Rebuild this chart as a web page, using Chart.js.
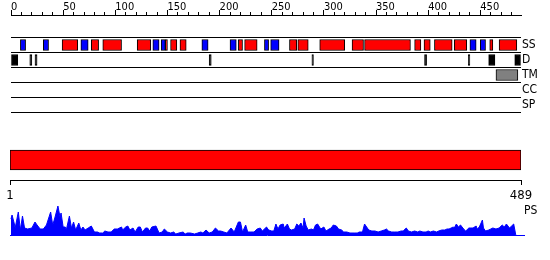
<!DOCTYPE html>
<html>
<head>
<meta charset="utf-8">
<script src="https://cdn.jsdelivr.net/npm/chart.js@4.4.1/dist/chart.umd.min.js"></script>
<style>
  body { margin: 0; background: #fff; }
  #wrap { position: relative; width: 550px; height: 260px; }
  canvas { position: absolute; left: 0; }
</style>
</head>
<body>
<div id="wrap">
  <canvas id="tracks" width="550" height="120" style="top:0"></canvas>
  <canvas id="span" width="550" height="62" style="top:140px"></canvas>
  <canvas id="ps" width="550" height="40" style="top:200px"></canvas>
</div>
<script>
// sequence + feature data (residue ranges)
const seqLength = 489;
const trackNames = ['SS', 'D', 'TM', 'CC', 'SP'];
const axisTicks = [0, 10, 20, 30, 40, 50, 60, 70, 80, 90, 100, 110, 120, 130, 140, 150, 160, 170, 180, 190,
  200, 210, 220, 230, 240, 250, 260, 270, 280, 290, 300, 310, 320, 330, 340, 350, 360, 370, 380, 390,
  400, 410, 420, 430, 440, 450, 460, 470, 480];
const axisLabels = [0, 50, 100, 150, 200, 250, 300, 350, 400, 450];
const spanTicks = [1, 489];

const helices = [[49, 64], [77, 84], [88, 106], [121, 134], [148, 150], [153, 159], [162, 168],
  [218, 222], [224, 236], [267, 274], [275, 285], [296, 320], [327, 338], [339, 383], [387, 393],
  [396, 402], [406, 423], [425, 437], [459, 462], [468, 485]];
const strands = [[9, 14], [31, 36], [67, 74], [136, 142], [144, 148], [183, 189], [210, 216],
  [243, 247], [249, 257], [440, 446], [450, 455]];
const disorder = [[0, 6.5], [18, 20], [23, 25], [190, 192], [288.5, 290], [396.5, 398.5],
  [438.5, 440], [458, 464], [483, 488.5]];
const transmem = [[465, 486]];

const psPos = [0, 1, 3, 4, 7, 9, 11, 13, 16, 20, 23, 25, 28, 31, 34, 38, 40, 42, 45, 47, 48, 50, 52, 53,
  56, 58, 60, 62, 65, 67, 69, 71, 74, 77, 80, 83, 85, 88, 90, 93, 96, 99, 102, 106, 107, 110, 112, 114,
  117, 119, 122, 124, 126, 129, 131, 133, 135, 139, 142, 145, 147, 150, 153, 156, 158, 161, 165, 167,
  169, 172, 176, 179, 182, 184, 187, 190, 193, 196, 199, 201, 204, 207, 211, 214, 218, 220, 222, 225,
  227, 230, 233, 236, 239, 241, 245, 247, 250, 252, 254, 256, 258, 261, 262, 265, 267, 269, 272, 274,
  276, 278, 280, 281, 283, 285, 288, 290, 292, 294, 297, 300, 302, 305, 307, 309, 312, 314, 317, 319,
  322, 325, 329, 332, 334, 337, 339, 341, 343, 346, 349, 352, 355, 358, 360, 362, 365, 368, 371, 374,
  376, 379, 381, 384, 387, 390, 392, 395, 398, 400, 402, 405, 408, 410, 413, 416, 418, 420, 422, 424,
  425, 427, 429, 431, 434, 436, 439, 441, 443, 446, 447, 449, 452, 453, 455, 458, 460, 462, 465, 468,
  471, 473, 475, 478, 480, 482, 484];
const psVal = [16, 20, 12, 7, 23, 5, 19, 7, 6, 7, 13, 10, 6, 6, 10, 23, 10, 17, 29, 18, 22, 8, 8, 5,
  19, 7, 13, 5, 12, 5, 8, 5, 7, 9, 3, 3, 2, 2, 4, 3, 3, 6, 6, 8, 5, 8, 9, 5,
  7, 3, 8, 8, 3, 7, 7, 4, 8, 9, 2, 3, 6, 3, 2, 3, 1, 2, 3, 1,
  2, 2, 1, 2, 3, 2, 5, 2, 3, 7, 4, 4, 3, 2, 7, 3, 13, 13, 3, 10,
  3, 3, 3, 6, 7, 4, 8, 5, 4, 4, 11, 6, 10, 11, 7, 11, 6, 5, 6, 11,
  9, 12, 7, 17, 9, 5, 6, 5, 10, 11, 6, 8, 4, 6, 7, 10, 9, 6, 5, 3,
  3, 2, 2, 2, 3, 3, 11, 8, 5, 4, 4, 3, 4, 5, 6, 4, 3, 3, 3, 4,
  4, 7, 4, 3, 4, 3, 4, 3, 3, 4, 3, 4, 3, 4, 5, 5, 6, 6, 7, 8,
  7, 11, 8, 10, 6, 4, 7, 7, 7, 9, 6, 8, 15, 7, 4, 5, 6, 7, 6, 7,
  10, 8, 11, 7, 9, 11, 0];

const FONT = "'DejaVu Sans Condensed', 'DejaVu Sans', sans-serif";
Chart.defaults.font.family = FONT;
Chart.defaults.color = '#000';
Chart.defaults.animation = false;
Chart.defaults.plugins.legend.display = false;
Chart.defaults.plugins.tooltip.enabled = false;

// track geometry in px
const left = 11, right = 521;
const psRight = 524;
const pxPerRes = (right - left) / seqLength;

function boxes(list, track, color) {
  return {
    data: list.map(([a, b]) => ({ x: [a, b], y: track })),
    backgroundColor: color,
    borderColor: '#000',
    borderWidth: 1,
    borderSkipped: false,
    barThickness: 11,
    grouped: false
  };
}

new Chart(document.getElementById('tracks'), {
  type: 'bar',
  data: {
    datasets: [
      boxes(helices, 0, '#ff0000'),
      boxes(strands, 0, '#0000ff'),
      boxes(disorder, 1, '#000000'),
      boxes(transmem, 2, '#808080')
    ]
  },
  options: {
    indexAxis: 'y',
    responsive: false,
    layout: { padding: { left: left, right: 0, top: 0, bottom: 0 } },
    scales: {
      x: {
        type: 'linear', position: 'top', min: 0, max: seqLength,
        afterBuildTicks: s => { s.ticks = axisTicks.map(v => ({ value: v })); },
        afterFit: s => { s.height = 15; },
        ticks: {
          padding: -4, align: 'start', autoSkip: false, maxRotation: 0,
          font: { size: 11 },
          callback: v => axisLabels.includes(v) ? String(v) : ''
        },
        grid: {
          drawOnChartArea: false, tickLength: 5, color: '#000',
          tickBorderDash: c => axisLabels.includes(c.tick.value) ? [] : [3, 2],
          tickBorderDashOffset: c => axisLabels.includes(c.tick.value) ? 0 : 3
        },
        border: { color: '#000' }
      },
      y: {
        type: 'linear', position: 'right', reverse: true, min: -2, max: 5, offset: false,
        afterBuildTicks: s => { s.ticks = trackNames.map((n, i) => ({ value: i })); },
        afterFit: s => { s.width = 550 - right; s.paddingTop = 0; s.paddingBottom = 0; },
        ticks: { padding: 1, font: { size: 12 }, callback: v => trackNames[v] },
        grid: { drawTicks: false, color: '#000' },
        border: { display: false }
      }
    }
  }
});

new Chart(document.getElementById('span'), {
  type: 'bar',
  data: {
    labels: ['seq'],
    datasets: [{
      data: [[1, seqLength]],
      backgroundColor: '#ff0000', borderColor: '#000',
      borderWidth: 1, borderSkipped: false, barThickness: 20
    }]
  },
  options: {
    indexAxis: 'y',
    responsive: false,
    layout: { padding: { left: 10, right: 550 - right, top: 0, bottom: 0 } },
    scales: {
      x: {
        type: 'linear', min: 1, max: seqLength,
        afterBuildTicks: s => { s.ticks = spanTicks.map(v => ({ value: v })); },
        afterFit: s => { s.height = 22; },
        ticks: { padding: 3, autoSkip: false, maxRotation: 0, font: { size: 13 } },
        grid: { drawOnChartArea: false, tickLength: 5, color: '#000' },
        border: { color: '#000' }
      },
      y: { display: false }
    }
  }
});

// PS plot: same residue->px mapping as the tracks, baseline runs a bit past the end
new Chart(document.getElementById('ps'), {
  type: 'line',
  data: {
    datasets: [{
      data: psPos.map((x, i) => ({ x: x, y: psVal[i] })),
      borderColor: '#0000ff', backgroundColor: '#0000ff',
      borderWidth: 1, pointRadius: 0, fill: 'origin', tension: 0
    }]
  },
  options: {
    responsive: false,
    layout: { padding: { left: 10, right: 0, top: 5, bottom: 5 } },
    scales: {
      x: {
        type: 'linear',
        min: (10 - left) / pxPerRes, max: (psRight - left) / pxPerRes,
        ticks: { display: false },
        grid: { display: false },
        border: { color: '#0000ff' },
        afterFit: s => { s.height = 0; }
      },
      y: {
        position: 'right', min: 0, max: 30,
        afterBuildTicks: s => { s.ticks = [{ value: 24.5 }]; },
        afterFit: s => { s.width = 550 - psRight; s.paddingTop = 0; s.paddingBottom = 0; },
        ticks: { padding: 0, font: { size: 12 }, callback: () => 'PS' },
        grid: { display: false, drawTicks: false },
        border: { display: false }
      }
    }
  }
});
</script>
</body>
</html>
